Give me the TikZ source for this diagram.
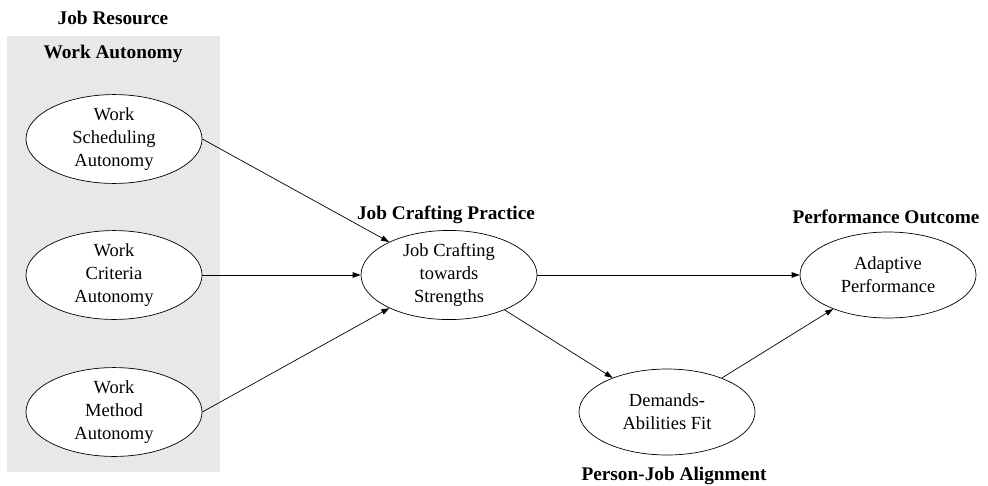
\documentclass[tikz,border=0pt]{standalone}
\usepackage{fontspec}
\setmainfont{Liberation Serif}
\usetikzlibrary{arrows.meta,positioning,shapes.geometric}

\tikzset{
  construct/.style={draw, line width=0.7pt, ellipse, fill=white, minimum width=176pt, minimum height=86pt,
    inner sep=0pt, align=center, font=\fontsize{18.5}{23}\selectfont},
  heading/.style={font=\fontsize{19.3}{22}\selectfont\bfseries},
  link/.style={-{Triangle[length=8pt,width=5.5pt]}, line width=0.7pt}
}

\begin{document}
\begin{tikzpicture}[x=1pt,y=-1pt]
    \useasboundingbox (0,0) rectangle (988,485);

    % Job resource panel
    \fill[gray!18] (7,36) rectangle (220,472);
    \node[heading] (jr) at (113,18) {Job Resource};
    \node[heading] (wa) at (113,54) {Work Autonomy};

    % Autonomy dimensions
    \node[construct] (ws) at (114,139) {Work\\Scheduling\\Autonomy};
    \node[construct] (wc) at (114,275) {Work\\Criteria\\Autonomy};
    \node[construct] (wm) at (114,412) {Work\\Method\\Autonomy};

    % Mediators and outcome
    \node[construct] (jcs) at (449,275) {Job Crafting\\towards\\Strengths};
    \node[heading] (jcp) at (446,215) {Job Crafting Practice};

    \node[construct] (daf) at (667,412) {Demands-\\Abilities Fit};
    \node[heading] (pja) at (674,476) {Person-Job Alignment};

    \node[construct] (ap) at (888,275) {Adaptive\\Performance};
    \node[heading] (po) at (886,217) {Performance Outcome};

    % Paths
    \draw[link] (ws.east) -- (jcs);
    \draw[link] (wc) -- (jcs);
    \draw[link] (wm.east) -- (jcs);
    \draw[link] (jcs) -- (ap);
    \draw[link] (jcs) -- (daf);
    \draw[link] (daf) -- (ap);
\end{tikzpicture}
\end{document}
